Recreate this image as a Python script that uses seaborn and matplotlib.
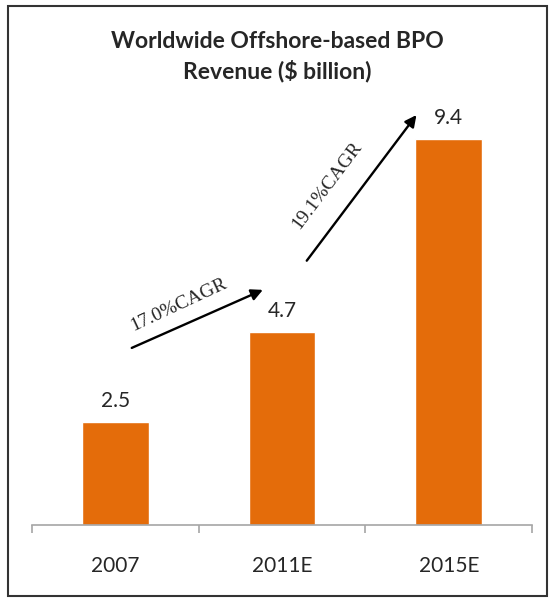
import matplotlib
matplotlib.use("Agg")
import matplotlib.pyplot as plt
import matplotlib.patches as mpatches
import seaborn as sns
import pandas as pd

# chart data
years = ["2007", "2011E", "2015E"]
revenue = [2.5, 4.7, 9.4]
cagr_labels = ["17.0%CAGR", "19.1%CAGR"]

bar_color = "#E46C0A"
text_color = "#262626"

sns.set_theme(style="white")
plt.rcParams["font.family"] = ["Lato", "DejaVu Sans"]
serif = ["Liberation Serif", "DejaVu Serif"]

df = pd.DataFrame({"year": years, "revenue": revenue})

fig = plt.figure(figsize=(5.52, 6.01), dpi=100)
ax = fig.add_axes([0.058, 0.1265, 0.906, 0.782])

sns.barplot(data=df, x="year", y="revenue", color=bar_color, saturation=1,
            width=0.4, ax=ax)

ax.set_xlim(-0.5, 2.5)
ax.set_ylim(0, 11.46)

# value labels on top of bars
for i, v in enumerate(revenue):
    ax.text(i, v + 0.38, f"{v:.1f}", ha="center", va="baseline", fontsize=15,
            color=text_color)

# CAGR arrows between bars
arrow_kw = dict(arrowstyle="-|>", color="black", lw=1.7, mutation_scale=17)
ax.annotate("", xy=(0.90, 5.76), xytext=(0.083, 4.29), arrowprops=arrow_kw)
ax.annotate("", xy=(1.816, 10.05), xytext=(1.138, 6.39), arrowprops=arrow_kw)
ax.text(0.377, 5.37, cagr_labels[0], rotation=25, ha="center", va="center",
        fontsize=14, family=serif, color=text_color)
ax.text(1.27, 8.27, cagr_labels[1], rotation=53, ha="center", va="center",
        fontsize=14, family=serif, color=text_color)

# axes styling
for s in ["top", "right", "left"]:
    ax.spines[s].set_visible(False)
ax.spines["bottom"].set_color("#a6a6a6")
ax.spines["bottom"].set_linewidth(1.2)
ax.set_yticks([])
ax.set_xlabel("")
ax.set_ylabel("")
ax.set_xticks([-0.5, 0.5, 1.5, 2.5], minor=True)
ax.tick_params(axis="x", which="major", length=0, pad=22, labelsize=15,
               labelcolor=text_color)
ax.tick_params(axis="x", which="minor", length=6, width=1.2, color="#a6a6a6",
               bottom=True, direction="out")

# title
fig.text(0.503, 0.920, "Worldwide Offshore-based BPO", ha="center", va="baseline",
         fontsize=16.5, fontweight="bold", color=text_color)
fig.text(0.503, 0.869, "Revenue ($ billion)", ha="center", va="baseline",
         fontsize=16.5, fontweight="bold", color=text_color)

# outer frame
frame = mpatches.Rectangle((0.014, 0.008), 0.977, 0.982, transform=fig.transFigure,
                           fill=False, edgecolor="#333333", lw=1.5)
fig.patches.append(frame)

fig.savefig("out.png", dpi=100)
